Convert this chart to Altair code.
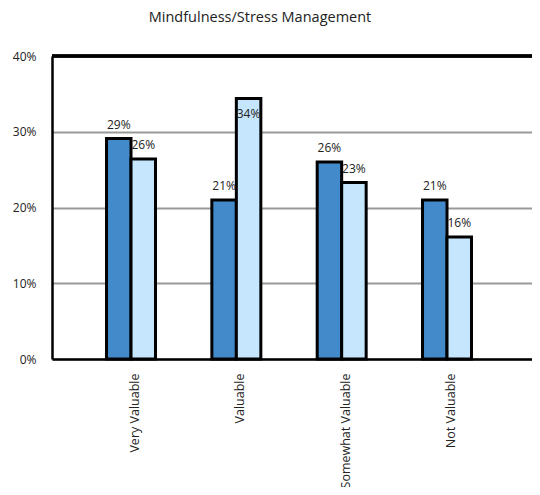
import altair as alt
import pandas as pd

categories = ["Very Valuable", "Valuable", "Somewhat Valuable", "Not Valuable"]
series_names = ["Group 1", "Group 2"]
dark_values = [0.291, 0.210, 0.260, 0.210]
light_values = [0.264, 0.344, 0.233, 0.161]
colors = ["#428ACA", "#C5E6FD"]
y_ticks = [0.0, 0.1, 0.2, 0.3, 0.4]

rows = []
for c, a, b in zip(categories, dark_values, light_values):
    rows.append({"category": c, "series": series_names[0], "value": a})
    rows.append({"category": c, "series": series_names[1], "value": b})
df = pd.DataFrame(rows)

FONT = "Open Sans"

x_enc = alt.X(
    "category:N",
    sort=categories,
    scale=alt.Scale(paddingInner=0.535, paddingOuter=0.546, align=0.474),
    axis=alt.Axis(
        title=None, labelAngle=-90, ticks=False, domainColor="black",
        domainWidth=2.5, labelPadding=14, labelFontSize=12.5, labelColor="#222",
        labelOffset=4, labelFont=FONT,
    ),
)
y_scale = alt.Scale(domain=[0, 0.4])
y_axis = alt.Axis(
    title=None, format=".0%", values=y_ticks, ticks=False, domainColor="black",
    domainWidth=2.5, gridColor="#999999", gridWidth=2, labelPadding=16,
    labelFontSize=12, labelColor="#222", labelFont=FONT,
)
xoff = alt.XOffset("series:N", sort=series_names,
                   scale=alt.Scale(paddingInner=0, paddingOuter=0))

base = alt.Chart(df)

bars = base.mark_bar(stroke="black", strokeWidth=3).encode(
    x=x_enc,
    xOffset=xoff,
    y=alt.Y("value:Q", scale=y_scale, axis=y_axis),
    color=alt.Color("series:N", sort=series_names,
                    scale=alt.Scale(domain=series_names, range=colors), legend=None),
)

labels = base.transform_calculate(
    label_y="min(datum.value, 0.305)",
    label="format(datum.value, '.0%')",
).mark_text(dy=-14, fontSize=12, color="#222", font=FONT).encode(
    x=alt.X("category:N", sort=categories),
    xOffset=xoff,
    y=alt.Y("label_y:Q", scale=y_scale),
    text="label:N",
)

top_rule = base.mark_rule(color="black", strokeWidth=2.5).encode(y=alt.datum(0.4))

chart = alt.layer(bars, top_rule, labels).properties(
    width=480,
    height=303,
    autosize=alt.AutoSizeParams(type="none"),
    padding={"left": 44, "top": 48, "right": 0, "bottom": 128},
    title=alt.Title("Mindfulness/Stress Management", fontSize=14.5, fontWeight="normal",
                    offset=25, color="#222", anchor="middle", dx=-32, font=FONT),
).configure_view(stroke=None)

chart.save("out.html", embed_options={"renderer": "svg", "actions": False})
